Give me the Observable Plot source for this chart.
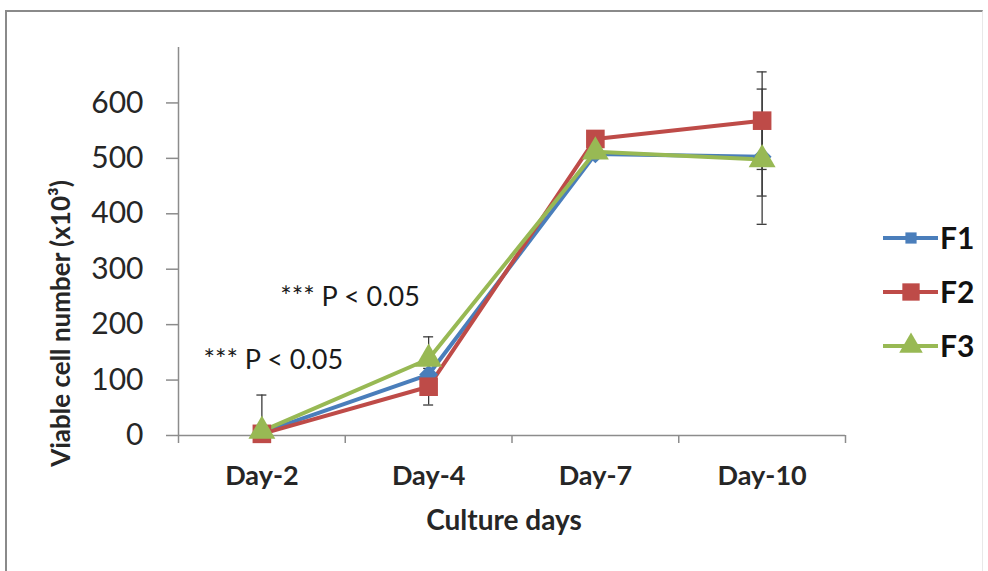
<!DOCTYPE html>
<html>
<head>
<meta charset="utf-8">
<script src="https://cdn.jsdelivr.net/npm/d3@7"></script>
<script src="https://cdn.jsdelivr.net/npm/@observablehq/plot@0.6"></script>
<style>
  html, body { margin: 0; padding: 0; background: #fff; }
  #wrap { position: relative; width: 988px; height: 571px; overflow: hidden; }
  #frame { position: absolute; left: 5px; top: 10px; width: 978px; height: 600px;
           border-top: 2px solid #8a8a8a; border-left: 2px solid #8a8a8a; border-right: 1px solid #e8e8e8; box-sizing: border-box; }
  #chart { position: absolute; left: 0; top: 0; }
  #legend { position: absolute; left: 0; top: 0; }
</style>
</head>
<body>
<div id="wrap">
  <div id="frame"></div>
  <div id="chart"></div>
  <svg id="legend" width="988" height="571"></svg>
</div>
<script>
// ---- data ----
const days = ["Day-2", "Day-4", "Day-7", "Day-10"];
const seriesNames = ["F1", "F2", "F3"];
const F1 = [5, 110, 508, 503];
const F2 = [3, 88, 535, 568];
const F3 = [8, 138, 512, 498];
const F1err = [0, 30, 0, 122];
const F2err = [0, 33, 0, 88];
const F3err = [65, 40, 0, 66];
const yTicks = [0, 100, 200, 300, 400, 500, 600];
const annotations = [
  {x: 0.65, y: 135, text: "*** P < 0.05"},
  {x: 1.11, y: 250, text: "*** P < 0.05"}
];
const colors = {F1: "#4a7ebb", F2: "#be4b48", F3: "#98b954"};
const symbols = {F1: "diamond2", F2: "square", F3: "triangle"};

const valuesBy = {F1, F2, F3};
const errBy = {F1: F1err, F2: F2err, F3: F3err};
const rows = [];
for (const s of seriesNames) {
  days.forEach((d, i) => rows.push({series: s, day: d, xi: i + 1, value: valuesBy[s][i], err: errBy[s][i]}));
}
const errRows = rows.filter(r => r.err > 0);
const lowCaps = errRows.filter(r => r.value - r.err > 0);
const bounds = d3.range(days.length + 1).map(i => i + 0.5);

const font = "Lato, 'Open Sans', sans-serif";
const ink = "#262626";
const axisGray = "#8c8c8c";

function widenCaps(i, s, v, d, c, next) {
  const g = next(i, s, v, d, c);
  d3.select(g).selectAll("line").each(function() {
    const el = d3.select(this);
    const x = +el.attr("x1");
    el.attr("x1", x - 5).attr("x2", x + 5);
  });
  return g;
}

const plot = Plot.plot({
  width: 988,
  height: 571,
  marginLeft: 178,
  marginRight: 143,
  marginTop: 47,
  marginBottom: 136,
  style: {fontFamily: font, background: "transparent", overflow: "visible"},
  x: {type: "linear", domain: [0.5, days.length + 0.5]},
  y: {domain: [0, 700]},
  marks: [
    // axis lines
    Plot.ruleY([0], {stroke: axisGray, strokeWidth: 1.5}),
    Plot.ruleX([0.5], {y1: 0, y2: 700, stroke: axisGray, strokeWidth: 1.5}),
    // x boundary ticks
    Plot.ruleX(bounds, {x: d => d, y1: 0, y2: 0, stroke: axisGray, strokeWidth: 1.5, render: (i, s, v, d, c, next) => {
      const g = next(i, s, v, d, c);
      d3.select(g).selectAll("line").attr("y1", s.y(0)).attr("y2", s.y(0) + 8);
      return g;
    }}),
    Plot.axisY({ticks: yTicks, tickSize: 12, tickPadding: 23, fontSize: 30, stroke: axisGray, color: ink, label: null, strokeWidth: 1.5}),
    Plot.axisX({ticks: days.map((d, i) => i + 1), tickFormat: i => days[i - 1], tickSize: 0, tickPadding: 30, fontSize: 27, fontWeight: "bold", color: ink, label: null}),
    // axis titles
    Plot.text(["Viable cell number (x10³)"], {frameAnchor: "left", textAnchor: "middle", lineAnchor: "middle", dx: -117, dy: 82, rotate: -90, fontSize: 26, fontWeight: "bold", fill: ink, text: d => d}),
    Plot.text(["Culture days"], {frameAnchor: "bottom", textAnchor: "middle", lineAnchor: "middle", dy: 86, dx: -8, fontSize: 28, fontWeight: "bold", fill: ink, text: d => d}),
    // error bars
    Plot.ruleX(errRows, {x: "xi", y1: d => Math.max(0, d.value - d.err), y2: d => d.value + d.err, stroke: "#3a3a3a", strokeWidth: 1.3}),
    Plot.ruleY(errRows, {x1: "xi", x2: "xi", y: d => d.value + d.err, stroke: "#3a3a3a", strokeWidth: 1.3, render: widenCaps}),
    Plot.ruleY(lowCaps, {x1: "xi", x2: "xi", y: d => d.value - d.err, stroke: "#3a3a3a", strokeWidth: 1.3, render: widenCaps}),
    // lines
    ...seriesNames.map(s => Plot.line(rows.filter(r => r.series === s), {x: "xi", y: "value", stroke: colors[s], strokeWidth: 4})),
    ...seriesNames.map(s => Plot.dot(rows.filter(r => r.series === s), {x: "xi", y: "value", fill: colors[s], stroke: "none", symbol: () => symbols[s], r: s === "F2" ? 10.5 : s === "F3" ? 10 : 8.5})),
    // annotations
    Plot.text(annotations, {x: "x", y: "y", text: "text", textAnchor: "start", lineAnchor: "middle", fontSize: 27, fill: "#1a1a1a"})
  ]
});
document.getElementById("chart").appendChild(plot);

// legend
const lg = d3.select("#legend");
const legendY = {F1: 238, F2: 292, F3: 346};
seriesNames.forEach(s => {
  const g = lg.append("g").attr("transform", `translate(0,${legendY[s]})`);
  g.append("line").attr("x1", 883).attr("x2", 938).attr("y1", 0).attr("y2", 0).attr("stroke", colors[s]).attr("stroke-width", 4);
  const sym = s === "F1" ? d3.symbolDiamond2 : s === "F2" ? d3.symbolSquare : d3.symbolTriangle;
  const size = s === "F1" ? 160 : s === "F2" ? 300 : 240;
  g.append("path").attr("d", d3.symbol(sym, size)()).attr("transform", s === "F1" ? "translate(911,0) rotate(45)" : "translate(911,0)").attr("fill", colors[s]);
  g.append("text").attr("x", 940).attr("y", 0).attr("dy", "0.36em").attr("font-family", font).attr("font-size", 30).attr("font-weight", "bold").attr("fill", "#111").text(s);
});
</script>
</body>
</html>
